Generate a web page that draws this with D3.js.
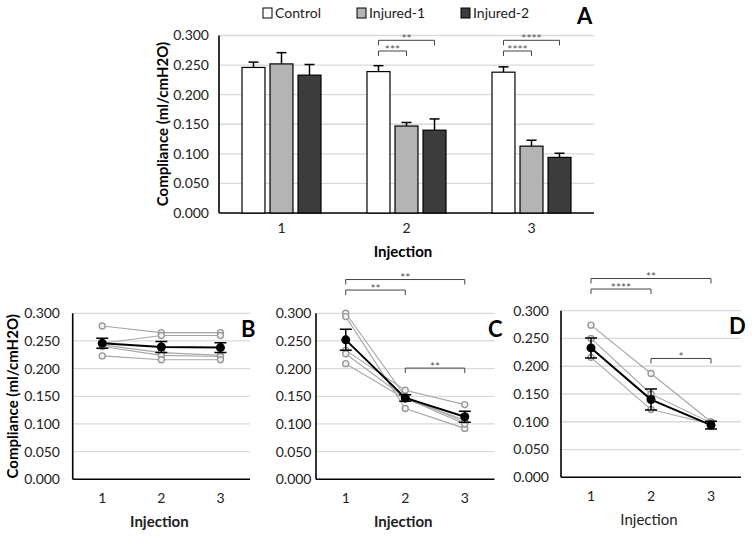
<!DOCTYPE html>
<html><head><meta charset="utf-8">
<script src="https://cdn.jsdelivr.net/npm/d3@7"></script>
<style>
body{margin:0;background:#fff;}
svg{display:block;font-family:Lato,"Open Sans",sans-serif;}
</style></head>
<body>
<svg id="c" width="752" height="536"></svg>
<script>
// ---------- DATA ----------
const injections = ["1", "2", "3"];
const seriesNames = ["Control", "Injured-1", "Injured-2"];
const controlMean = [0.246, 0.239, 0.238];
const controlErr = [0.009, 0.010, 0.009];
const injured1Mean = [0.252, 0.147, 0.113];
const injured1Err = [0.019, 0.006, 0.010];
const injured2Mean = [0.233, 0.140, 0.094];
const injured2Err = [0.018, 0.019, 0.007];
const yTickValues = [0, 0.05, 0.10, 0.15, 0.20, 0.25, 0.30];

// individual animals (panels B, C, D)
const controlIndividuals = [
  [0.277, 0.265, 0.265],
  [0.246, 0.260, 0.260],
  [0.243, 0.229, 0.224],
  [0.240, 0.224, 0.222],
  [0.223, 0.216, 0.216]
];
const injured1Individuals = [
  [0.300, 0.150, 0.103],
  [0.294, 0.128, 0.092],
  [0.233, 0.161, 0.135],
  [0.227, 0.147, 0.100],
  [0.209, 0.145, 0.107]
];
const injured2Individuals = [
  [0.274, 0.187, 0.100],
  [0.250, 0.150, 0.098],
  [0.216, 0.122, 0.096]
];

// significance brackets
const sigA = [
  {group: "2", from: 0, to: 1, label: "***", level: 0},
  {group: "2", from: 0, to: 2, label: "**", level: 1},
  {group: "3", from: 0, to: 1, label: "****", level: 0},
  {group: "3", from: 0, to: 2, label: "****", level: 1}
];
const sigC = [
  {from: "1", to: "2", label: "**", y: 0.342},
  {from: "1", to: "3", label: "**", y: 0.361},
  {from: "2", to: "3", label: "**", y: 0.201}
];
const sigD = [
  {from: "1", to: "2", label: "****", y: 0.339},
  {from: "1", to: "3", label: "**", y: 0.358},
  {from: "2", to: "3", label: "*", y: 0.214}
];

// ---------- DRAW ----------
const svg = d3.select("#c");
const fills = ["#ffffff", "#b4b4b4", "#3c3c3c"];
const gridCol = "#d9d9d9";
const fmt = d3.format(".3f");

function axesFrame(g, x0, x1, y, tickLabelX) {
  g.selectAll(null).data(yTickValues.filter(v => v > 0)).join("line")
    .attr("x1", x0).attr("x2", x1)
    .attr("y1", d => y(d)).attr("y2", d => y(d))
    .attr("stroke", gridCol).attr("stroke-width", 1.3);
  g.selectAll(null).data(yTickValues).join("text")
    .attr("x", tickLabelX).attr("y", d => y(d)).attr("dy", "0.35em")
    .attr("text-anchor", "end").attr("font-size", 14).attr("fill", "#222")
    .text(d => fmt(d));
  g.append("line").attr("x1", x0).attr("x2", x0).attr("y1", y(0.3)).attr("y2", y(0))
    .attr("stroke", "#000").attr("stroke-width", 1.6);
  g.append("line").attr("x1", x0).attr("x2", x1).attr("y1", y(0)).attr("y2", y(0))
    .attr("stroke", "#000").attr("stroke-width", 1.6);
}

function bracket(g, xa, xb, yy, label) {
  g.append("path").attr("d", `M${xa},${yy + 5}V${yy}H${xb}V${yy + 5}`)
    .attr("fill", "none").attr("stroke", "#444").attr("stroke-width", 1);
  g.append("text").attr("x", (xa + xb) / 2).attr("y", yy + 2.5).attr("text-anchor", "middle")
    .attr("font-size", 12).attr("fill", "#555").text(label);
}

// ===== Panel A =====
{
  const g = svg.append("g");
  const y = d3.scaleLinear().domain([0, 0.3]).range([213, 35.5]);
  const x = d3.scaleBand().domain(injections).range([219, 594]);
  const xi = d3.scaleBand().domain(seriesNames).range([-39.5, 39.5]).paddingInner(0.18);
  axesFrame(g, 219, 594, y, 209);

  const means = [controlMean, injured1Mean, injured2Mean];
  const errs = [controlErr, injured1Err, injured2Err];
  const rows = [];
  seriesNames.forEach((s, si) => injections.forEach((inj, ii) => rows.push({s, si, inj, v: means[si][ii], e: errs[si][ii]})));
  const cx = d => x(d.inj) + x.bandwidth() / 2 + xi(d.s) + xi.bandwidth() / 2;

  g.selectAll(null).data(rows).join("line")
    .attr("x1", cx).attr("x2", cx).attr("y1", d => y(d.v)).attr("y2", d => y(d.v + d.e))
    .attr("stroke", "#000").attr("stroke-width", 1.5);
  g.selectAll(null).data(rows).join("line")
    .attr("x1", d => cx(d) - 5).attr("x2", d => cx(d) + 5)
    .attr("y1", d => y(d.v + d.e)).attr("y2", d => y(d.v + d.e))
    .attr("stroke", "#000").attr("stroke-width", 1.5);
  g.selectAll(null).data(rows).join("rect")
    .attr("x", d => x(d.inj) + x.bandwidth() / 2 + xi(d.s))
    .attr("width", xi.bandwidth())
    .attr("y", d => y(d.v)).attr("height", d => y(0) - y(d.v))
    .attr("fill", d => fills[d.si]).attr("stroke", "#000").attr("stroke-width", 1.2);

  sigA.forEach(b => {
    const xa = x(b.group) + x.bandwidth() / 2 + xi(seriesNames[b.from]) + xi.bandwidth() / 2;
    const xb = x(b.group) + x.bandwidth() / 2 + xi(seriesNames[b.to]) + xi.bandwidth() / 2;
    bracket(g, xa, xb, b.level === 0 ? 51 : 40.3, b.label);
  });

  g.selectAll(null).data(injections).join("text")
    .attr("x", d => x(d) + x.bandwidth() / 2).attr("y", 228).attr("dy", "0.35em")
    .attr("text-anchor", "middle").attr("font-size", 14).attr("fill", "#222").text(d => d);
  g.append("text").attr("x", 403).attr("y", 252).attr("dy", "0.35em").attr("text-anchor", "middle")
    .attr("font-size", 15).attr("font-weight", "bold").text("Injection");
  g.append("text").attr("transform", "translate(163,124) rotate(-90)").attr("dy", "0.35em")
    .attr("text-anchor", "middle").attr("font-size", 15).attr("font-weight", "bold").text("Compliance (ml/cmH2O)");

  const legX = [263, 357, 461];
  seriesNames.forEach((s, i) => {
    g.append("rect").attr("x", legX[i]).attr("y", 8).attr("width", 9).attr("height", 10)
      .attr("fill", fills[i]).attr("stroke", "#000").attr("stroke-width", 1);
    g.append("text").attr("x", legX[i] + 12).attr("y", 13).attr("dy", "0.35em")
      .attr("font-size", 14).attr("fill", "#222").text(s);
  });
  g.append("text").attr("x", 577).attr("y", 16).attr("dy", "0.35em")
    .attr("font-size", 22).attr("font-weight", "bold").text("A");
}

// ===== line panels =====
function linePanel(o) {
  const g = svg.append("g");
  const y = d3.scaleLinear().domain([0, 0.3]).range([o.y0, o.y3]);
  const x = d3.scaleBand().domain(injections).range([o.x0, o.x1]);
  const px = d => x(d) + x.bandwidth() / 2;
  axesFrame(g, o.x0, o.x1, y, o.tickX);

  const line = d3.line().x((d, i) => px(injections[i])).y(d => y(d));
  g.selectAll(null).data(o.ind).join("path")
    .attr("d", line).attr("fill", "none").attr("stroke", "#a6a6a6").attr("stroke-width", 1.1);
  o.ind.forEach(row => {
    g.selectAll(null).data(row).join("circle")
      .attr("cx", (d, i) => px(injections[i])).attr("cy", d => y(d)).attr("r", 3)
      .attr("fill", "#f2f2f2").attr("stroke", "#999").attr("stroke-width", 1.4);
  });
  g.append("path").datum(o.mean).attr("d", line).attr("fill", "none")
    .attr("stroke", "#000").attr("stroke-width", 2);
  o.mean.forEach((m, i) => {
    const xx = px(injections[i]);
    const e = o.err[i];
    g.append("path").attr("d", `M${xx},${y(m - e)}V${y(m + e)}M${xx - 6},${y(m + e)}H${xx + 6}M${xx - 6},${y(m - e)}H${xx + 6}`)
      .attr("stroke", "#000").attr("stroke-width", 1.5).attr("fill", "none");
    g.append("circle").attr("cx", xx).attr("cy", y(m)).attr("r", 4.5).attr("fill", "#000");
  });
  (o.sig || []).forEach(b => bracket(g, px(b.from), px(b.to), y(b.y), b.label));
  g.selectAll(null).data(injections).join("text")
    .attr("x", px).attr("y", o.y0 + 19).attr("dy", "0.35em")
    .attr("text-anchor", "middle").attr("font-size", 14).attr("fill", "#222").text(d => d);
  g.append("text").attr("x", (o.x0 + o.x1) / 2 - 2).attr("y", o.y0 + 42.5).attr("dy", "0.35em")
    .attr("text-anchor", "middle").attr("font-size", 15)
    .attr("font-weight", o.boldTitle ? "bold" : "normal").attr("fill", "#222").text("Injection");
  g.append("text").attr("x", o.letterX).attr("y", o.y3 + 16).attr("dy", "0.35em")
    .attr("font-size", 22).attr("font-weight", "bold").text(o.letter);
  if (o.yTitle) {
    g.append("text").attr("transform", `translate(13,${(o.y0 + o.y3) / 2}) rotate(-90)`).attr("dy", "0.35em")
      .attr("text-anchor", "middle").attr("font-size", 15).attr("font-weight", "bold").text("Compliance (ml/cmH2O)");
  }
}

linePanel({x0: 72.7, x1: 250, y0: 479.3, y3: 313.3, tickX: 60, ind: controlIndividuals,
  mean: controlMean, err: controlErr, letter: "B", letterX: 241, boldTitle: true, yTitle: true});
linePanel({x0: 316, x1: 494.5, y0: 479.3, y3: 313.3, tickX: 311.5, ind: injured1Individuals,
  mean: injured1Mean, err: injured1Err, sig: sigC, letter: "C", letterX: 488, boldTitle: true});
linePanel({x0: 561, x1: 741, y0: 477.3, y3: 310.7, tickX: 549, ind: injured2Individuals,
  mean: injured2Mean, err: injured2Err, sig: sigD, letter: "D", letterX: 729, boldTitle: false});
</script>
</body></html>
